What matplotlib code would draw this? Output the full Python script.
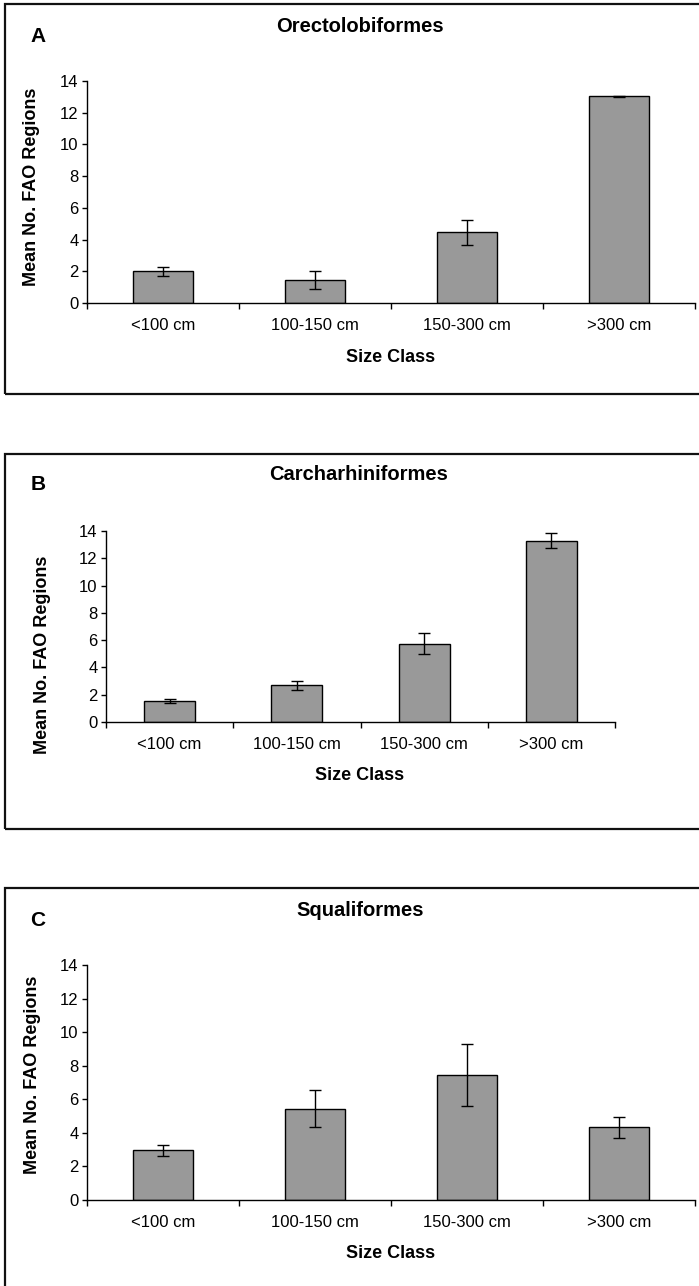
import numpy as np
import matplotlib
matplotlib.use("Agg")
import matplotlib.pyplot as plt
from matplotlib.patches import Rectangle

plt.rcParams['font.family'] = ['Liberation Sans', 'DejaVu Sans']

size_classes = ['<100 cm', '100-150 cm', '150-300 cm', '>300 cm']

orecto_mean = [2.0, 1.45, 4.45, 13.05]
orecto_err = [0.3, 0.55, 0.8, 0.03]

carch_mean = [1.55, 2.68, 5.75, 13.3]
carch_err = [0.13, 0.3, 0.75, 0.57]

squal_mean = [2.95, 5.45, 7.45, 4.33]
squal_err = [0.32, 1.12, 1.85, 0.64]

W, H = 699, 1286
fig = plt.figure(figsize=(W / 100, H / 100), dpi=100)
fig.patch.set_facecolor('white')


def fx(x):
    return x / W


def fy(y):
    return 1 - y / H


def panel(box, ax_px, letter, letter_xy, title, title_xy, ylab_xy, xlab_xy, means, errs):
    # frame around the panel (right side runs off the picture)
    l, t, r, b = box
    fig.add_artist(Rectangle((fx(l), fy(b)), fx(r - l), (b - t) / H,
                             transform=fig.transFigure, fill=False,
                             lw=1.6, edgecolor='#111111'))
    al, at, ar, ab = ax_px
    ax = fig.add_axes([fx(al), fy(ab), fx(ar - al), (ab - at) / H])
    x = np.arange(len(size_classes))
    ax.bar(x, means, width=0.4, color='#999999', edgecolor='black', linewidth=1,
           yerr=errs, capsize=4, error_kw=dict(elinewidth=1, capthick=1, ecolor='black'))
    ax.set_xlim(-0.5, 3.5)
    ax.set_ylim(0, 14)
    ax.set_yticks(np.arange(0, 15, 2))
    ax.set_xticks(np.arange(-0.5, 4, 1))
    ax.set_xticklabels([])
    ax.set_xticks(x, minor=True)
    ax.set_xticklabels(size_classes, minor=True)
    ax.tick_params(axis='x', which='major', direction='out', length=4, width=1)
    ax.tick_params(axis='x', which='minor', length=0, pad=11, labelsize=12)
    ax.tick_params(axis='y', direction='out', length=3.5, width=1, pad=2.5, labelsize=12)
    for s in ['top', 'right']:
        ax.spines[s].set_visible(False)
    for s in ['left', 'bottom']:
        ax.spines[s].set_linewidth(1)
    ax.set_facecolor('none')

    fig.text(fx(letter_xy[0]), fy(letter_xy[1]), letter, fontsize=15, fontweight='bold',
             ha='center', va='center')
    fig.text(fx(title_xy[0]), fy(title_xy[1]), title, fontsize=14.5, fontweight='bold',
             ha='center', va='center')
    fig.text(fx(ylab_xy[0]), fy(ylab_xy[1]), 'Mean No. FAO Regions', fontsize=13,
             fontweight='bold', rotation=90, ha='center', va='center')
    fig.text(fx(xlab_xy[0]), fy(xlab_xy[1]), 'Size Class', fontsize=13,
             fontweight='bold', ha='center', va='center')
    return ax


panel((5, 4, 760, 394), (87, 81, 695, 303), 'A', (38, 36), 'Orectolobiformes', (360, 26),
      (31, 187), (391, 358), orecto_mean, orecto_err)
panel((5, 454, 760, 829), (106, 531, 615, 722), 'B', (38, 485), 'Carcharhiniformes', (359, 475),
      (43, 655), (360, 776), carch_mean, carch_err)
panel((5, 888, 760, 1340), (87, 965, 695, 1200), 'C', (38, 921), 'Squaliformes', (360, 910),
      (33, 1075), (391, 1253), squal_mean, squal_err)

fig.savefig('out.png', dpi=100)
